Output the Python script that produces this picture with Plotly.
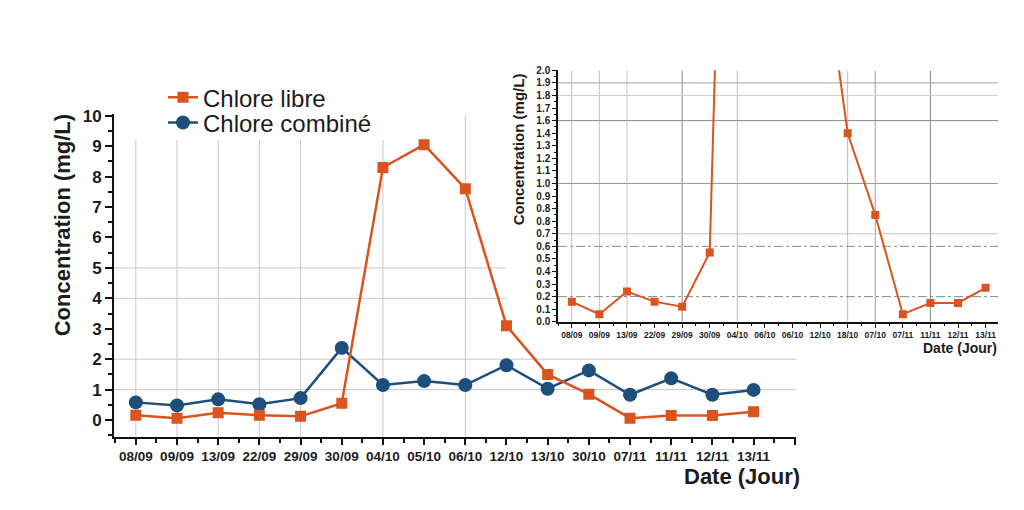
import plotly.graph_objects as go

# ---------------- data ----------------
dates_main = ["08/09", "09/09", "13/09", "22/09", "29/09", "30/09", "04/10", "05/10",
              "06/10", "12/10", "13/10", "30/10", "07/11", "11/11", "12/11", "13/11"]
dates_inset = ["08/09", "09/09", "13/09", "22/09", "29/09", "30/09", "04/10", "06/10",
               "06/10", "12/10", "18/10", "07/10", "07/11", "11/11", "12/11", "13/11"]
chlore_libre = [0.16, 0.06, 0.24, 0.16, 0.12, 0.55, 8.3, 9.05, 7.6, 3.1, 1.5, 0.85,
                0.06, 0.15, 0.15, 0.27]
chlore_combine = [0.58, 0.48, 0.68, 0.52, 0.72, 2.37, 1.15, 1.28, 1.15, 1.8, 1.03, 1.63,
                  0.83, 1.37, 0.83, 0.99]
main_ytick_vals = [0, 1, 2, 3, 4, 5, 6, 7, 8, 9, 10]
inset_ytick_vals = [round(i * 0.1, 1) for i in range(21)]
inset_ytick_text = ["0.0", "0.1", "0.2", "0.3", "0.4", "0.5", "0.6", "0.7", "0.8", "0.8",
                    "0.9", "1.0", "1.1", "1.2", "1.3", "1.4", "1.6", "1.7", "1.8", "1.9", "2.0"]

# ---------------- style ----------------
ORANGE = "#DA5420"
BLUE = "#1E4F7C"
TXT = "#1c1c1c"
FONT = "Liberation Sans, Arial, sans-serif"
W, H = 1024, 510

xi = list(range(len(dates_main)))
xi_in = list(range(len(dates_inset)))

fig = go.Figure()

fig.add_trace(go.Scatter(
    x=xi, y=chlore_combine, mode="lines+markers", name="Chlore combiné",
    line=dict(color=BLUE, width=2.5),
    marker=dict(symbol="circle", size=14, color=BLUE),
    xaxis="x", yaxis="y", legend="legend2"))
fig.add_trace(go.Scatter(
    x=xi, y=chlore_libre, mode="lines+markers", name="Chlore libre",
    line=dict(color=ORANGE, width=2.5),
    marker=dict(symbol="square", size=11, color=ORANGE),
    xaxis="x", yaxis="y", legend="legend"))
fig.add_trace(go.Scatter(
    x=xi_in, y=chlore_libre, mode="lines+markers", name="Chlore libre (zoom)",
    line=dict(color=ORANGE, width=2),
    marker=dict(symbol="square", size=8, color=ORANGE),
    xaxis="x2", yaxis="y2", showlegend=False))

# ---------------- gridlines (shapes) ----------------
shapes = []
main_xr = [-0.53, 16.03]
main_yr = [-0.55, 10.05]
main_vgrid = [(0, 9.2), (1, 9.2), (2, 9.2), (3, 9.2), (4, 9.2), (6, 9.2), (8, 10)]
for xv, ytop in main_vgrid:
    shapes.append(dict(type="line", xref="x", yref="y", x0=xv, x1=xv, y0=main_yr[0], y1=ytop,
                       line=dict(color="#c9c9c9", width=1), layer="below"))
main_hgrid = [(5, 9.0), (4, 9.0), (2, main_xr[1]), (1, main_xr[1])]
for yv, xend in main_hgrid:
    shapes.append(dict(type="line", xref="x", yref="y", x0=main_xr[0], x1=xend, y0=yv, y1=yv,
                       line=dict(color="#c9c9c9", width=1), layer="below"))

in_xr = [-0.5, 15.45]
in_yr = [0, 2.0]
inset_vgrid = [(0, "#c4c4c4"), (1, "#c4c4c4"), (2, "#c4c4c4"), (4, "#8a8a8a"), (6, "#bcbcbc"),
               (10, "#bcbcbc"), (11, "#a0a0a0"), (13, "#8a8a8a")]
for xv, col in inset_vgrid:
    shapes.append(dict(type="line", xref="x2", yref="y2", x0=xv, x1=xv, y0=in_yr[0], y1=in_yr[1],
                       line=dict(color=col, width=1), layer="below"))
inset_hgrid = [(1.9, "#a0a0a0", "solid"), (1.8, "#cfcfcf", "solid"), (1.6, "#8a8a8a", "solid"),
               (1.1, "#9a9a9a", "solid"), (0.7, "#c4c4c4", "solid"),
               (0.6, "#8a8a8a", "dashdot"), (0.2, "#8a8a8a", "dashdot")]
for yv, col, dash in inset_hgrid:
    shapes.append(dict(type="line", xref="x2", yref="y2", x0=in_xr[0], x1=in_xr[1], y0=yv, y1=yv,
                       line=dict(color=col, width=1, dash=dash), layer="below"))

# ---------------- axes ----------------
def px_x(p):
    return p / W


def px_y(p):
    return 1 - p / H


legend_common = dict(xanchor="left", yanchor="middle", bgcolor="rgba(0,0,0,0)", borderwidth=0,
                     font=dict(size=24, family=FONT, color=TXT), itemsizing="trace")

fig.update_layout(
    width=W, height=H,
    margin=dict(l=0, r=0, t=0, b=0),
    paper_bgcolor="white", plot_bgcolor="white",
    font=dict(family=FONT, color=TXT),
    shapes=shapes,
    xaxis=dict(
        domain=[px_x(114), px_x(796)], range=main_xr,
        tickmode="array", tickvals=xi + [len(xi)], ticktext=dates_main + [""],
        showgrid=False, zeroline=False,
        showline=True, linecolor="#111", linewidth=2,
        ticks="outside", ticklen=6, tickwidth=1.5, tickcolor="#111",
        tickfont=dict(size=13.5, family=FONT, color=TXT, weight="bold"),
        minor=dict(tickmode="linear", tick0=0.5, dtick=1, ticks="outside", ticklen=4,
                   tickwidth=1.5, tickcolor="#111", showgrid=False),
        anchor="y", fixedrange=True),
    yaxis=dict(
        domain=[px_y(441), px_y(110)], range=main_yr,
        tickmode="array", tickvals=main_ytick_vals,
        showgrid=False, zeroline=False,
        showline=True, linecolor="#111", linewidth=2,
        ticks="outside", ticklen=7, tickwidth=1.5, tickcolor="#111",
        tickfont=dict(size=17, family=FONT, color=TXT, weight="bold"),
        minor=dict(tickmode="linear", tick0=-0.5, dtick=1, ticks="outside", ticklen=4,
                   tickwidth=1.5, tickcolor="#111", showgrid=False),
        anchor="x", fixedrange=True),
    xaxis2=dict(
        domain=[px_x(558), px_x(998)], range=in_xr,
        tickmode="array", tickvals=xi_in, ticktext=dates_inset,
        showgrid=False, zeroline=False,
        showline=True, linecolor="#111", linewidth=1.5,
        ticks="outside", ticklen=4, tickwidth=1.2, tickcolor="#111",
        tickfont=dict(size=8.5, family=FONT, color=TXT, weight="bold"),
        minor=dict(tickmode="linear", tick0=0.5, dtick=1, ticks="outside", ticklen=2.5,
                   tickwidth=1.2, tickcolor="#111", showgrid=False),
        anchor="y2", fixedrange=True),
    yaxis2=dict(
        domain=[px_y(323), px_y(65)], range=in_yr,
        tickmode="array", tickvals=inset_ytick_vals, ticktext=inset_ytick_text,
        showgrid=False, zeroline=False,
        showline=True, linecolor="#111", linewidth=1.5,
        ticks="outside", ticklen=4, tickwidth=1.2, tickcolor="#111",
        tickfont=dict(size=10, family=FONT, color=TXT, weight="bold"),
        minor=dict(tickmode="linear", tick0=0.05, dtick=0.1, ticks="outside", ticklen=2.5,
                   tickwidth=1.2, tickcolor="#111", showgrid=False),
        anchor="x2", fixedrange=True),
    legend=dict(x=px_x(163), y=px_y(93), **legend_common),
    legend2=dict(x=px_x(163), y=px_y(119), **legend_common),
    showlegend=True,
    annotations=[
        dict(text="Concentration (mg/L)", textangle=-90, xref="paper", yref="paper",
             x=px_x(62), y=px_y(224), xanchor="center", yanchor="middle", showarrow=False,
             font=dict(size=22, family=FONT, color=TXT, weight="bold")),
        dict(text="Date (Jour)", xref="paper", yref="paper",
             x=px_x(802), y=px_y(482), xanchor="right", yanchor="middle", showarrow=False,
             font=dict(size=22, family=FONT, color=TXT, weight="bold")),
        dict(text="Concentration (mg/L)", textangle=-90, xref="paper", yref="paper",
             x=px_x(518), y=px_y(146), xanchor="center", yanchor="middle", showarrow=False,
             font=dict(size=15, family=FONT, color=TXT, weight="bold")),
        dict(text="Date (Jour)", xref="paper", yref="paper",
             x=px_x(999), y=px_y(350), xanchor="right", yanchor="middle", showarrow=False,
             font=dict(size=14, family=FONT, color=TXT, weight="bold")),
    ],
)

fig.write_html("out.html")
